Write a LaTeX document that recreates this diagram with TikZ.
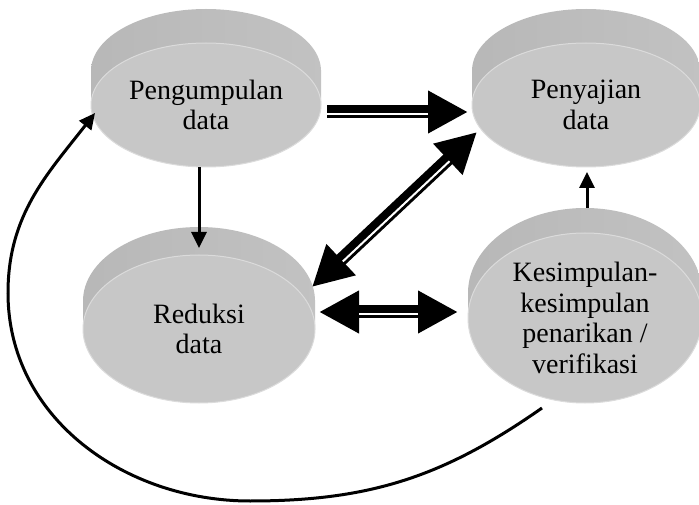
\documentclass[tikz,border=0pt]{standalone}
\usepackage{fontspec}
\setmainfont{Liberation Serif}
\usetikzlibrary{shapes.geometric, arrows.meta}

\begin{document}
\begin{tikzpicture}[x=1pt, y=1pt,
    face/.style={ellipse, fill=black!22, draw=black!14, line width=1pt, inner sep=0pt, outer sep=0pt, align=center, font=\fontsize{28}{30.5}\selectfont},
    side/.style={left color=black!28, middle color=black!44, right color=black!24},
    fat/.style={line width=13pt, -{Triangle[length=40pt, width=40pt]}},
    fatboth/.style={line width=13pt, {Triangle[length=40pt, width=40pt]}-{Triangle[length=40pt, width=40pt]}},
    gap/.style={draw=white, line width=2pt},
    arrow/.style={line width=3pt, -{Triangle[length=16pt, width=15pt]}}
  ]
  \useasboundingbox (0,0) rectangle (699,504);

  % Sides of the discs
  \foreach \x/\y/\rx/\ry/\h in {206/399/115/62/34, 586/399/114/62/34, 199/175/116/74/28, 585/186/117/85/25} {
    \shade[side] (\x-\rx,\y) rectangle (\x+\rx,\y+\h);
    \shade[side] (\x,\y+\h) ellipse [x radius=\rx pt, y radius=\ry pt];
  }

  % Discs
  \node[face, minimum width=230pt, minimum height=124pt] (pg) at (206,399) {Pengumpulan\\data};
  \node[face, minimum width=228pt, minimum height=124pt] (py) at (586,399) {Penyajian\\data};
  \node[face, minimum width=232pt, minimum height=148pt] (rd) at (199,175) {Reduksi\\data};
  \node[face, minimum width=234pt, minimum height=170pt] (ks) at (585,186) {Kesimpulan-\\kesimpulan\\penarikan /\\verifikasi};

  % Wide arrows
  \draw[fat] ([shift={(6,-7)}]pg.east) -- ([shift={(-4,-7)}]py.west);
  \draw[gap, shorten >=40pt, transform canvas={yshift=-2.5pt}] ([shift={(6,-7)}]pg.east) -- ([shift={(-4,-7)}]py.west);
  \draw[fatboth] ([shift={(-3,42)}]rd.east) -- ([shift={(5,-27)}]py.west);
  \draw[gap, shorten <=40pt, shorten >=40pt, transform canvas={shift={(1.7pt,-1.8pt)}}] ([shift={(-3,42)}]rd.east) -- ([shift={(5,-27)}]py.west);
  \draw[fatboth] ([shift={(4,17)}]rd.east) -- ([shift={(-10,6)}]ks.west);
  \draw[gap, shorten <=40pt, shorten >=40pt, transform canvas={yshift=-2.5pt}] ([shift={(4,17)}]rd.east) -- ([shift={(-10,6)}]ks.west);

  % Thin arrows
  \draw[arrow] ([xshift=-7pt]pg.south) -- ([yshift=7pt]rd.north);
  \draw[arrow] ([shift={(2,25)}]ks.north) -- ([shift={(1,-5)}]py.south);

  % Loop back
  \coordinate (low) at (250,3);
  \coordinate (far) at (8,211);
  \draw[arrow] ([shift={(-43,-5)}]ks.south) to[out=-145, in=0] (low) to[out=180, in=-90] (far) to[out=90, in=-128] ([shift={(4,-8)}]pg.west);
\end{tikzpicture}
\end{document}
